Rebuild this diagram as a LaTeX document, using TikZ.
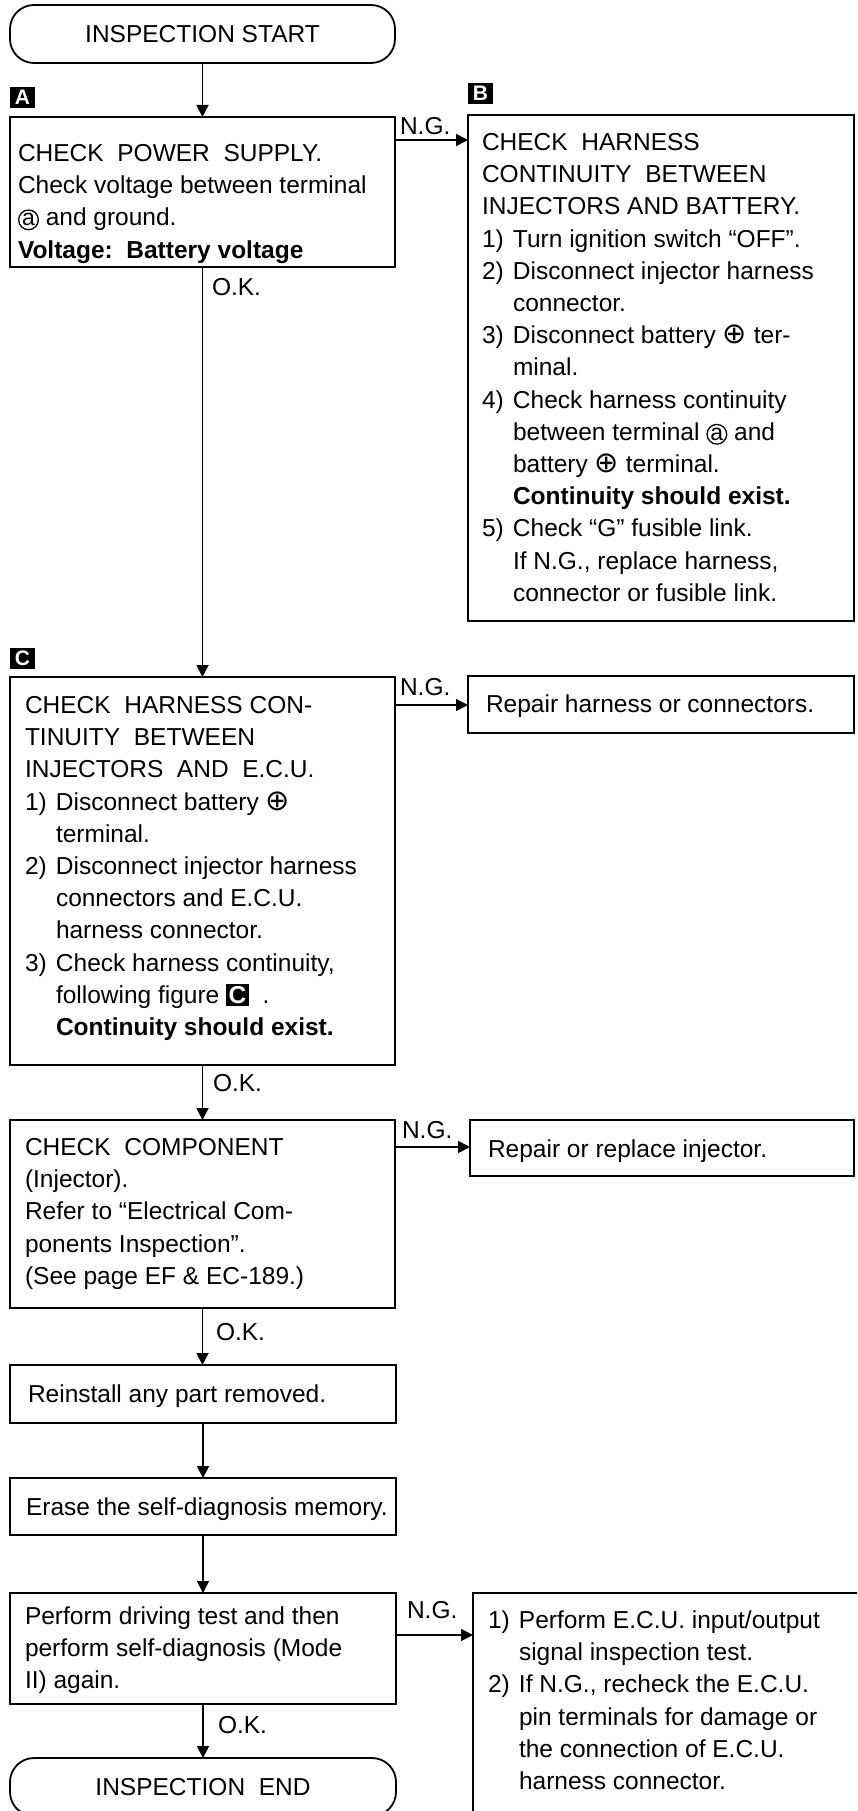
\documentclass[tikz,border=0pt]{standalone}
\usepackage{fontspec}
\setmainfont{Liberation Sans}
\newfontfamily\symfont{DejaVu Sans}
\usetikzlibrary{arrows.meta,calc}
\newcommand{\plusc}{{\symfont\fontsize{29}{29}\selectfont\char"2295}}
\newcommand{\terma}{\tikz[baseline=(ca.base)]\node[draw, circle, inner sep=0.6pt, outer sep=0pt, line width=1.3pt, font=\fontsize{23}{23}\selectfont] (ca) {a};}
\newcommand{\blklabel}[1]{{\setlength{\fboxsep}{2.5pt}\colorbox{black}{\textcolor{white}{\bfseries #1}}}}
\newcommand{\itm}[1]{\makebox[31pt][l]{#1}}
\newcommand{\ind}{\hspace*{31pt}}
\tikzset{
  box/.style={draw, line width=1.8pt, rectangle, inner sep=0pt, outer sep=0pt, anchor=north west},
  term/.style={box, rounded corners=24pt, font=\fontsize{24.5}{30}\selectfont},
  txt/.style={inner sep=0pt, outer sep=0pt, align=left, anchor=north west, font=\fontsize{24.5}{32.2}\selectfont},
  lbl/.style={inner sep=0pt, outer sep=0pt, anchor=base west, font=\fontsize{24.5}{30}\selectfont},
  tagbox/.style={fill=black, text=white, inner sep=0pt, outer sep=0pt, minimum width=25pt, minimum height=21pt, anchor=north west, font=\fontsize{21}{21}\selectfont\bfseries},
  arr/.style={line width=1.8pt, -{Triangle[length=12pt,width=12pt]}},
}
\begin{document}
\begin{tikzpicture}[x=1pt,y=-1pt]
\useasboundingbox (0,0) rectangle (857,1811);
\clip (0,0) rectangle (857,1811);

% start
\node[term, minimum width=385pt, minimum height=58pt] (S) at (10,5) {INSPECTION START};

% A
\node[tagbox] (tagA) at (10,87) {A};
\node[box, minimum width=385pt, minimum height=150pt] (A) at (10,117) {};
\node[txt] (Atxt) at (18,139) {\strut CHECK\ \ POWER\ \ SUPPLY.\\
Check voltage between terminal\\
\terma{} and ground.\\
\textbf{Voltage:\ \ Battery voltage}};
\draw[arr] (S.south) -- (S.south |- A.north);

% B
\node[tagbox] (tagB) at (468,83) {B};
\node[box, minimum width=386pt, minimum height=506pt] (B) at (468,115) {};
\node[txt] (Btxt) at (482,128) {\strut CHECK\ \ HARNESS\\
CONTINUITY\ \ BETWEEN\\
INJECTORS AND BATTERY.\\
\itm{1)}Turn ignition switch “OFF”.\\
\itm{2)}Disconnect injector harness\\
\ind connector.\\
\itm{3)}Disconnect battery \plusc{} ter-\\
\ind minal.\\
\itm{4)}Check harness continuity\\
\ind between terminal \terma{} and\\
\ind battery \plusc{} terminal.\\
\ind\textbf{Continuity should exist.}\\
\itm{5)}Check “G” fusible link.\\
\ind If N.G., replace harness,\\
\ind connector or fusible link.};
\coordinate (ngA) at ([yshift=-23pt]A.north east);
\draw[arr] (ngA) -- (ngA -| B.west);
\node[lbl] (ngAl) at (400,135) {N.G.};

% C
\node[tagbox] (tagC) at (10,648) {C};
\node[box, minimum width=385pt, minimum height=388pt] (C) at (10,677) {};
\node[txt] (Ctxt) at (25,691) {\strut CHECK\ \ HARNESS CON-\\
TINUITY\ \ BETWEEN\\
INJECTORS\ \ AND\ \ E.C.U.\\
\itm{1)}Disconnect battery \plusc\\
\ind terminal.\\
\itm{2)}Disconnect injector harness\\
\ind connectors and E.C.U.\\
\ind harness connector.\\
\itm{3)}Check harness continuity,\\
\ind following figure \blklabel{C}\ \ .\\
\ind\textbf{Continuity should exist.}};
\draw[arr] (A.south) -- (A.south |- C.north);
\node[lbl] (okA) at (212,295) {O.K.};

% repair harness
\node[box, minimum width=386pt, minimum height=57pt] (RH) at (468,676) {};
\node[lbl] (RHtxt) at (486,712) {Repair harness or connectors.};
\coordinate (ngC) at ([yshift=-28pt]C.north east);
\draw[arr] (ngC) -- (ngC -| RH.west);
\node[lbl] (ngCl) at (400,695) {N.G.};

% component
\node[box, minimum width=385pt, minimum height=188pt] (K) at (10,1120) {};
\node[txt] (Ktxt) at (25,1133) {\strut CHECK\ \ COMPONENT\\
(Injector).\\
Refer to “Electrical Com-\\
ponents Inspection”.\\
(See page EF \& EC-189.)};
\draw[arr] (C.south) -- (C.south |- K.north);
\node[lbl] (okC) at (213,1091) {O.K.};

% repair injector
\node[box, minimum width=384pt, minimum height=56pt] (RI) at (470,1120) {};
\node[lbl] (RItxt) at (488,1157) {Repair or replace injector.};
\coordinate (ngK) at ([yshift=-27pt]K.north east);
\draw[arr] (ngK) -- (ngK -| RI.west);
\node[lbl] (ngKl) at (402,1138) {N.G.};

% reinstall
\node[box, minimum width=386pt, minimum height=58pt] (R) at (10,1365) {};
\node[lbl] (Rtxt) at (28,1402) {Reinstall any part removed.};
\draw[arr] (K.south) -- (K.south |- R.north);
\node[lbl] (okK) at (216,1340) {O.K.};

% erase
\node[box, minimum width=386pt, minimum height=57pt] (E) at (10,1478) {};
\node[lbl] (Etxt) at (26,1515) {Erase the self-diagnosis memory.};
\draw[arr] (R.south) -- (R.south |- E.north);

% driving test
\node[box, minimum width=386pt, minimum height=111pt] (D) at (10,1593) {};
\node[txt] (Dtxt) at (25,1602) {\strut Perform driving test and then\\
perform self-diagnosis (Mode\\
II) again.};
\draw[arr] (E.south) -- (E.south |- D.north);

% final right box
\node[box, minimum width=420pt, minimum height=300pt] (F) at (473,1593) {};
\node[txt] (Ftxt) at (488,1606) {\strut\itm{1)}Perform E.C.U. input/output\\
\ind signal inspection test.\\
\itm{2)}If N.G., recheck the E.C.U.\\
\ind pin terminals for damage or\\
\ind the connection of E.C.U.\\
\ind harness connector.};
\coordinate (ngD) at ([yshift=-42pt]D.north east);
\draw[arr] (ngD) -- (ngD -| F.west);
\node[lbl] (ngDl) at (407,1618) {N.G.};

% end
\node[term, minimum width=386pt, minimum height=58pt] (T) at (10,1758) {INSPECTION\ \ END};
\draw[arr] (D.south) -- (D.south |- T.north);
\node[lbl] (okD) at (218,1733) {O.K.};
\end{tikzpicture}
\end{document}
